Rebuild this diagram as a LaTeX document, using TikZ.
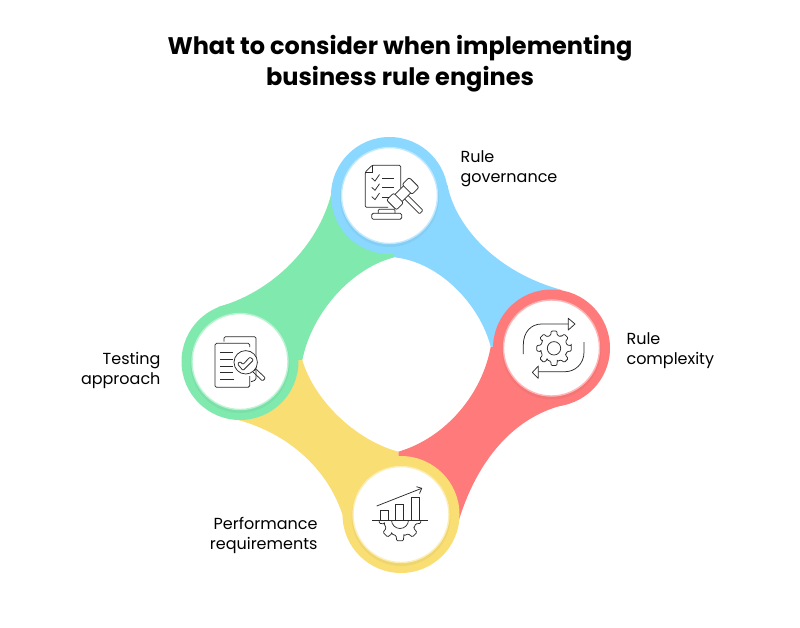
\documentclass[tikz,border=0pt]{standalone}
\usepackage{fontspec}
\setmainfont{Poppins}
\definecolor{ruleblue}{HTML}{8AD7FF}
\definecolor{rulegreen}{HTML}{7FE9AE}
\definecolor{rulered}{HTML}{FF7A7A}
\definecolor{ruleyellow}{HTML}{F9DE73}
\definecolor{iconline}{HTML}{2B2B2B}
\newcommand{\gearoutline}[3]{
    (#1,#2) ++(-9:#3) \foreach \a in {0,45,...,315} {
        -- ++(0,0) -- ($(#1,#2)+(\a-9:#3)$) -- ($(#1,#2)+(\a+9:#3)$) -- ($(#1,#2)+(\a+14:#3*0.77)$) -- ($(#1,#2)+(\a+31:#3*0.77)$)
    } -- cycle
}
\usetikzlibrary{calc}
\begin{document}
\begin{tikzpicture}[x=1pt,y=-1pt]

    \tikzset{
      hub/.style={
        circle,
        draw=none,
        fill=#1,
        inner sep=0pt,
        minimum size=117pt,
      },
      disc/.style={
        circle,
        fill=white,
        draw=#1!55!white,
        line width=1.4pt,
        inner sep=0pt,
        minimum size=96pt,
      },
      label/.style={
        anchor=center,
        font=\fontsize{16}{20}\selectfont,
      },
      icon/.style={
        draw=iconline,
        line width=0.75pt,
        fill=none,
      },
    }
    \useasboundingbox (0,0) rectangle (800,627);
    \fill[white] (0,0) rectangle (800,627);

    % title
    \node[align=center,font=\fontsize{24}{31}\selectfont\bfseries] (title) at (400,64) {What to consider when implementing\\business rule engines};

    % bands
    \fill[rulegreen] (389,195)--(333,185) .. controls (325,235) and (280,290) .. (218,307)--(240,361)--(302.3,360) .. controls (312,312) and (352,268) .. (394.3,257.3)--cycle;
    \fill[ruleblue] (389,195)--(447.5,185) .. controls (455,225) and (495,272) .. (562,290)--(551,348)--(490.7,346.7) .. controls (480,305) and (440,262) .. (394.3,257.3)--cycle;
    \fill[rulered] (551,348)--(568,404) .. controls (515,415) and (475,460) .. (456,530)--(401,514)--(398.3,451.7) .. controls (445,438) and (482,395) .. (490.7,346.7)--cycle;
    \fill[ruleyellow] (401,514)--(347,532) .. controls (335,470) and (285,430) .. (230,418)--(240,361)--(302.3,360) .. controls (314,400) and (355,440) .. (398.3,451.7)--cycle;

    % hubs
    \node[hub=rulegreen] (testhub) at (240,361.5) {};
    \node[hub=ruleblue] (governhub) at (389.5,195.5) {};
    \node[hub=rulered] (complexhub) at (551.5,348) {};
    \node[hub=ruleyellow] (perfhub) at (401,514.5) {};

    \foreach \px/\py/\col in {240/361.5/rulegreen,389.5/195.5/ruleblue,551.5/348/rulered,401/514.5/ruleyellow}{
        \fill[\col!85!black,opacity=0.25] (\px,\py+2) circle (49.5);
    }
    \node[disc=rulegreen] (testdisc) at (240,361.5) {};
    \node[disc=ruleblue] (governdisc) at (389.5,195.5) {};
    \node[disc=rulered] (complexdisc) at (551.5,348) {};
    \node[disc=ruleyellow] (perfdisc) at (401,514.5) {};

    % labels
    \node[label,align=left,anchor=north west] (govern) at (457,147) {Rule\\governance};
    \node[label,align=left,anchor=north west] (complex) at (623,329) {Rule\\complexity};
    \node[label,align=right,anchor=north east] (test) at (164,349) {Testing\\approach};
    \node[label,align=right,anchor=north east] (perf) at (321,514) {Performance\\requirements};

    % gavel icon
    \draw[icon,rounded corners=1.2pt] (400.7,188)--(400.7,165.3)--(372,165.3)--(365.3,172)--(365.3,207.3)--(388,207.3);
    \draw[icon] (365.3,172)--(372,172)--(372,165.3);
    \foreach \ty in {0,9.3,18.6}{
        \draw[icon] (371.7,178+\ty)--(375,181+\ty)--(379.5,174.5+\ty);
    }
    \draw[icon] (382.3,178.3)--(394,178.3);
    \draw[icon] (382.3,187.7)--(394,187.7);
    \draw[icon] (382.3,197.3)--(388.5,197.3);
    \begin{scope}[shift={(402.8,193.7)},rotate=45]
        \draw[icon,rounded corners=2pt] (-16,-7) rectangle (-6,7);
        \draw[icon,rounded corners=2pt] (6,-7) rectangle (16,7);
        \draw[icon] (-6,-5)--(6,-5);
        \draw[icon] (-6,5)--(6,5);
        \draw[icon,rounded corners=1pt] (-2.5,5)--(-2.5,26)--(2.5,26)--(2.5,5);
    \end{scope}
    \draw[icon,rounded corners=1.5pt] (371.7,213.3) rectangle (401.7,219.3);
    \draw[icon,rounded corners=1pt] (378.3,213.3)--(378.3,209.3)--(395,209.3)--(395,213.3);

    % gear and arrows icon
    \draw[icon,rounded corners=1pt] \gearoutline{554}{348.3}{17.5};
    \draw[icon] (554,348.3) circle (6.7);
    \draw[icon] (523.3,354) -- (523.3,345) .. controls (523.3,332) and (531,324) .. (541.7,324) -- (568.3,324);
    \draw[icon,line join=round] (568.3,318.3)--(575,324)--(568.3,330)--cycle;
    \draw[icon] (584,342) -- (584,352) .. controls (584,364) and (575,371.7) .. (565,371.7) -- (538.3,371.7);
    \draw[icon,line join=round] (538.3,366)--(532.3,372.5)--(538.3,378.3)--cycle;

    % chart icon
    \draw[icon,line width=1pt] (372.3,520)--(427.7,520);
    \draw[icon] (380.3,520)--(380.3,510.3)--(388.3,510.3)--(388.3,520);
    \draw[icon] (395.7,520)--(395.7,504.3)--(403.7,504.3)--(403.7,520);
    \draw[icon] (411.7,520)--(411.7,497.7)--(419.7,497.7)--(419.7,520);
    \draw[icon] (376.7,506)--(421.7,488.3);
    \draw[icon] (416.5,486.7)--(421.7,488.3)--(419.5,493.5);
    \begin{scope}
        \clip (360,520.5) rectangle (440,560);
        \draw[icon,rounded corners=1pt] \gearoutline{400}{520}{21};
        \draw[icon] (400,520) circle (8.5);
    \end{scope}

    % checked documents icon
    \draw[icon,rounded corners=1.5pt] (224,341.7)--(224,336.7)--(256,336.7)--(256,380)--(251,381.7);
    \draw[icon,rounded corners=1.5pt] (249.7,347)--(249.7,343.3)--(215,343.3)--(215,387.3)--(249.7,387.3)--(249.7,376);
    \foreach \ly/\lx in {352.7/233.3,359.3/233.3,366/233.3,372.7/233.3,379.3/234.3}{
        \draw[icon] (220,\ly)--(\lx,\ly);
    }
    \draw[icon,fill=white] (245.7,362.3) circle (11.7);
    \draw[icon,rounded corners=1pt,line join=round] (237.5,364)--(240,361.5)--(243,364.5)--(250,357)--(253.5,360)--(243,370.5)--cycle;
    \draw[icon,rounded corners=1pt] (254,370.5)--(256,369)--(265.5,378)--(262.5,381)--(253,372);

\end{tikzpicture}
\end{document}
